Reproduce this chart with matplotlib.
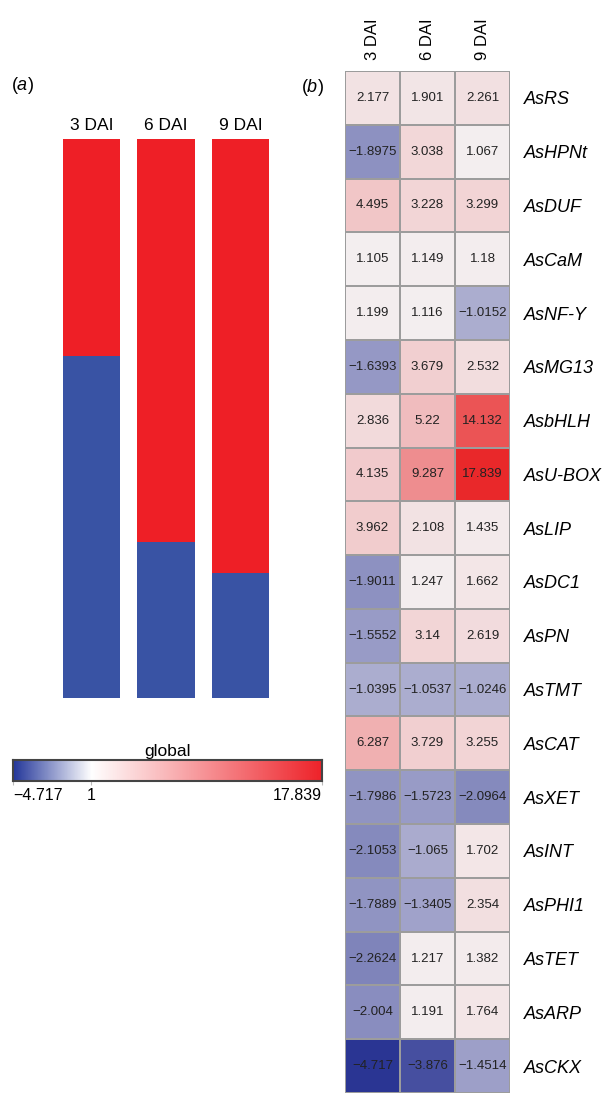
import numpy as np
import matplotlib
matplotlib.use("Agg")
import matplotlib.pyplot as plt
from matplotlib.colors import LinearSegmentedColormap, TwoSlopeNorm

plt.rcParams["font.family"] = ["Liberation Sans", "DejaVu Sans"]
plt.rcParams["mathtext.fontset"] = "custom"
plt.rcParams["mathtext.it"] = "Liberation Sans:italic"
plt.rcParams["mathtext.rm"] = "Liberation Sans"

# ---------------------------------------------------------------
# DATA
# ---------------------------------------------------------------
days = ["3 DAI", "6 DAI", "9 DAI"]

# panel (a): share of the bar that is red (up) vs blue (down)
up_share = [0.388, 0.721, 0.777]

# panel (b): fold change per gene and day
genes = ["AsRS", "AsHPNt", "AsDUF", "AsCaM", "AsNF-Y", "AsMG13", "AsbHLH",
         "AsU-BOX", "AsLIP", "AsDC1", "AsPN", "AsTMT", "AsCAT", "AsXET",
         "AsINT", "AsPHI1", "AsTET", "AsARP", "AsCKX"]
dai3 = [2.177, -1.8975, 4.495, 1.105, 1.199, -1.6393, 2.836, 4.135, 3.962,
        -1.9011, -1.5552, -1.0395, 6.287, -1.7986, -2.1053, -1.7889,
        -2.2624, -2.004, -4.717]
dai6 = [1.901, 3.038, 3.228, 1.149, 1.116, 3.679, 5.22, 9.287, 2.108,
        1.247, 3.14, -1.0537, 3.729, -1.5723, -1.065, -1.3405, 1.217,
        1.191, -3.876]
dai9 = [2.261, 1.067, 3.299, 1.18, -1.0152, 2.532, 14.132, 17.839, 1.435,
        1.662, 2.619, -1.0246, 3.255, -2.0964, 1.702, 2.354, 1.382, 1.764,
        -1.4514]

cbar_ticks = [-4.717, 1, 17.839]

# ---------------------------------------------------------------
# STYLE
# ---------------------------------------------------------------
W, H = 608, 1093
RED = "#ee1f26"
BLUE = "#3953a4"
cmap_bar = LinearSegmentedColormap.from_list("bwr_global", ["#24379a", "#ffffff", "#ee2229"])
# heatmap cells are printed slightly greyer around the centre
cmap_cells = LinearSegmentedColormap.from_list("bwr_cells", ["#2a3593", "#f3eff0", "#e9282a"])
vmin, vmax = min(cbar_ticks), max(cbar_ticks)
norm = TwoSlopeNorm(vmin=vmin, vcenter=1, vmax=vmax)


def px_axes(fig, x0, y0, x1, y1):
    # axes from pixel box (top-left origin)
    return fig.add_axes([x0 / W, 1 - y1 / H, (x1 - x0) / W, (y1 - y0) / H])


fig = plt.figure(figsize=(W / 100, H / 100), dpi=100)

# ---------------------------------------------------------------
# (a) stacked bars
# ---------------------------------------------------------------
ax_a = px_axes(fig, 54, 139, 278, 698)
x = np.arange(len(days)) + 0.5
up = np.array(up_share)
ax_a.bar(x, 1 - up, width=0.765, color=BLUE)
ax_a.bar(x, up, bottom=1 - up, width=0.765, color=RED)
ax_a.set_xlim(0, 3)
ax_a.set_ylim(0, 1)
ax_a.axis("off")
for xi, d in zip(x, days):
    ax_a.text(xi, 1.01, d, ha="center", va="bottom", fontsize=12.5)

fig.text(11 / W, 1 - 85 / H, r"($\it{a}$)", fontsize=13, va="center")
fig.text(301 / W, 1 - 88 / H, r"($\it{b}$)", fontsize=13, va="center")

# colour bar
cax = px_axes(fig, 13, 760, 322, 781)
grad = np.linspace(vmin, vmax, 600)[None, :]
cax.imshow(grad, cmap=cmap_bar, norm=norm, aspect="auto", extent=[vmin, vmax, 0, 1])
cax.set_yticks([])
cax.set_xticks(cbar_ticks)
cax.set_xticklabels([f"{t:g}".replace("-", "\u2212") for t in cbar_ticks], fontsize=11.5)
labs = cax.get_xticklabels()
labs[0].set_ha("left")
labs[-1].set_ha("right")
cax.tick_params(axis="x", length=3, color="#bbbbbb", pad=2)
for s in cax.spines.values():
    s.set_color("#444444")
    s.set_linewidth(1.5)
cax.set_title("global", fontsize=12.5, pad=3)

# ---------------------------------------------------------------
# (b) heatmap
# ---------------------------------------------------------------
ax_b = px_axes(fig, 345, 71, 510, 1093)
vals = np.column_stack([dai3, dai6, dai9])
ax_b.pcolormesh(vals, cmap=cmap_cells, norm=norm, edgecolors="#9c9c9c", linewidth=1.3)
ax_b.set_xlim(0, 3)
ax_b.set_ylim(len(genes), 0)
for i in range(len(genes)):
    for j in range(3):
        ax_b.text(j + 0.5, i + 0.5, f"{vals[i, j]:g}".replace("-", "\u2212"),
                  ha="center", va="center", fontsize=9.5, color="#222222")

ax_b.xaxis.tick_top()
ax_b.set_xticks(x)
ax_b.set_xticklabels(days, rotation=90, fontsize=12)
ax_b.yaxis.tick_right()
ax_b.set_yticks(np.arange(len(genes)) + 0.5)
ax_b.set_yticklabels(genes, fontsize=13, style="italic")
ax_b.tick_params(length=0)
ax_b.tick_params(axis="y", pad=10)
ax_b.tick_params(axis="x", pad=8)
for s in ax_b.spines.values():
    s.set_visible(False)

fig.savefig("out.png", dpi=100)
